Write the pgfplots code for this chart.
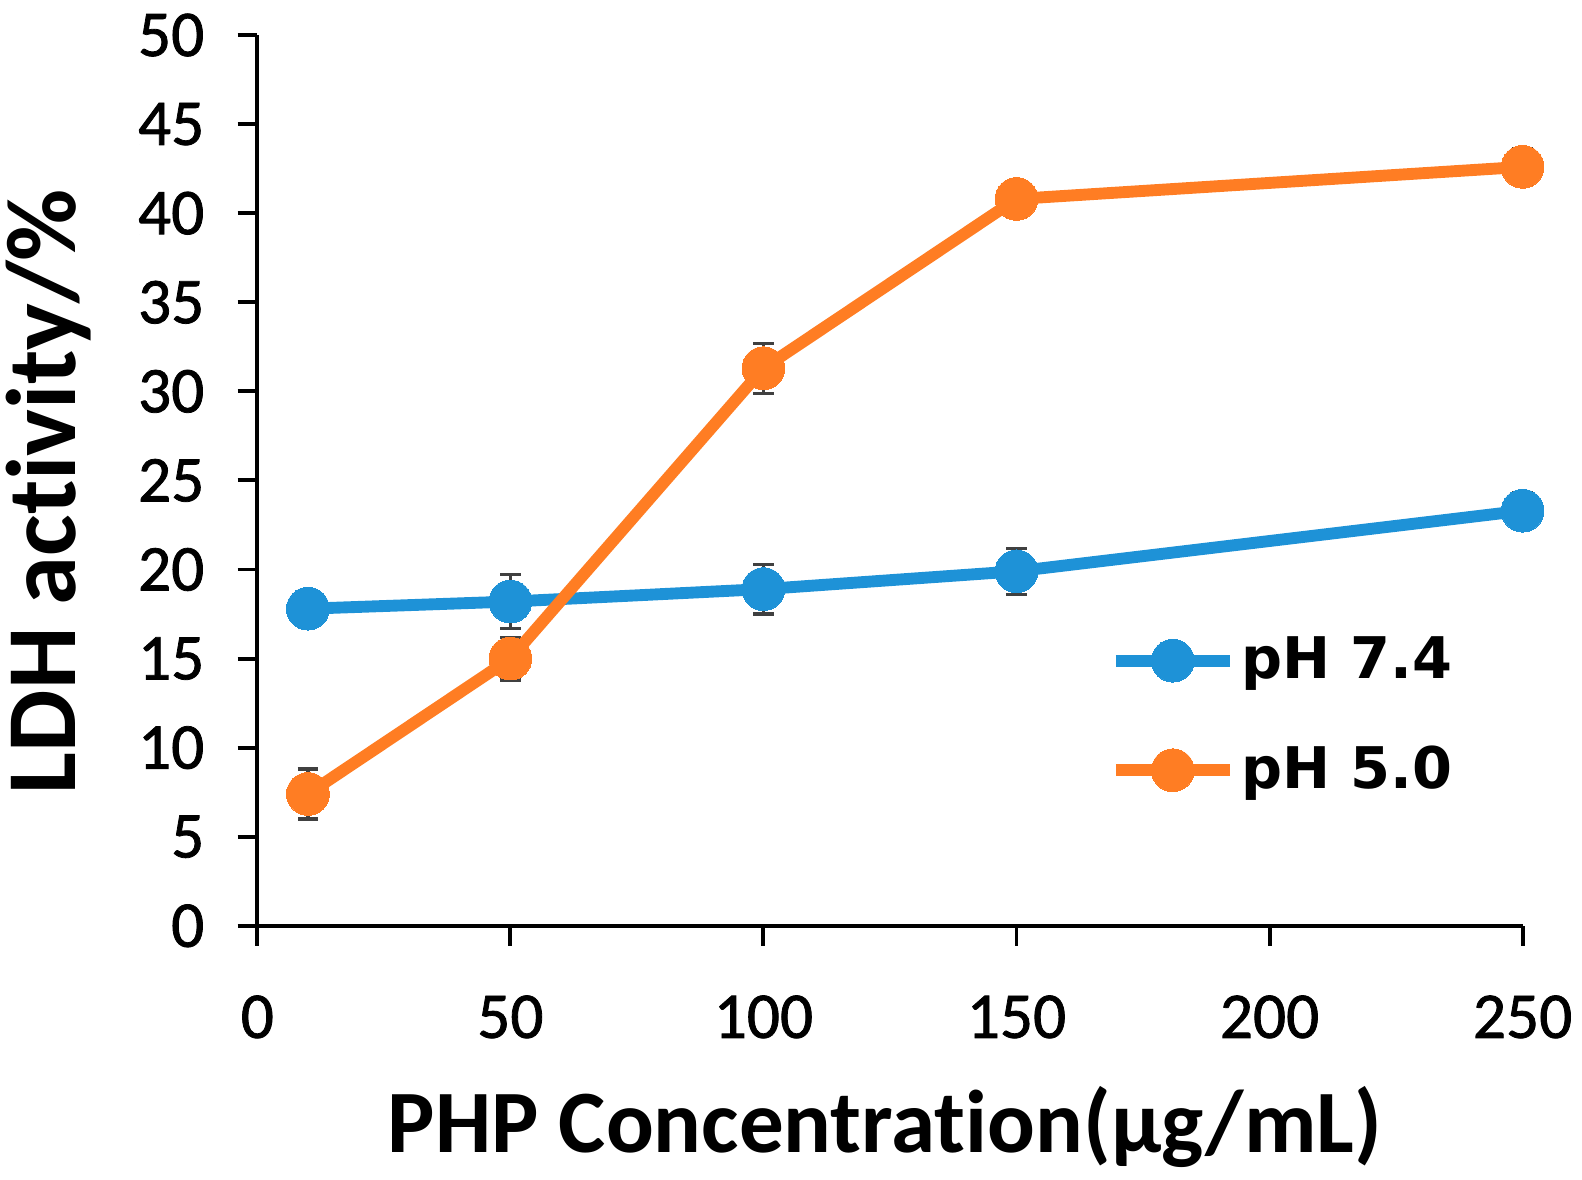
\documentclass[border=0pt]{standalone}
\usepackage{fontspec}
\setmainfont{Carlito}[Ligatures=NoCommon]
\newfontfamily\tickfont{Carlito}[FakeBold=1.2]
\newfontfamily\legfont{DejaVu Sans}
\usepackage{pgfplots}
\pgfplotsset{compat=1.18}
\definecolor{cblue}{RGB}{30,146,215}
\definecolor{corange}{RGB}{255,125,35}
\definecolor{ebar}{RGB}{64,64,64}
\pgfplotsset{
  ebars/.style={draw=none, mark=none, forget plot,
    error bars/.cd, y dir=both, y explicit,
    error bar style={line width=0.8pt, color=ebar, solid},
    error mark options={rotate=90, mark size=2.6pt, line width=0.8pt, color=ebar}},
}
\pgfplotstableread{
x y e
10 17.8 1.0
50 18.2 1.5
100 18.9 1.4
150 19.9 1.3
250 23.3 1.0
}\phseven
\pgfplotstableread{
x y e
10 7.4 1.4
50 15.0 1.2
100 31.3 1.4
150 40.8 1.0
250 42.6 1.0
}\phfive
\begin{document}
\begin{tikzpicture}
\begin{axis}[
  at={(0,0)}, anchor=origin,
  scale only axis,
  width=319.6pt, height=225pt,
  xmin=0, xmax=250, ymin=0, ymax=50,
  xtick={0,50,100,150,200,250},
  ytick={0,5,10,15,20,25,30,35,40,45,50},
  axis lines*=left,
  axis line style={line width=1pt, black, -},
  tick align=outside,
  major tick length=5pt,
  tick style={line width=1pt, black},
  /pgf/number format/assume math mode=true,
  ticklabel style={font=\tickfont\fontsize{16.5}{18}\selectfont},
  yticklabel style={anchor=east, inner sep=0pt, xshift=-8.2pt},
  xticklabel style={anchor=north, inner sep=0pt, yshift=-12.4pt},
  xlabel={PHP Concentration(µg/mL)},
  ylabel={LDH activity/\%},
  xlabel style={font=\bfseries\fontsize{22.5}{24}\selectfont, at={(axis description cs:0.496,-0.254)}, anchor=base},
  ylabel style={font=\bfseries\fontsize{25}{27}\selectfont, at={(axis description cs:-0.144,0.4875)}, anchor=base},
  legend style={draw=none, fill=none, at={(axis cs:168.3,16.6)}, anchor=north west,
    font=\legfont\bfseries\fontsize{14.5}{16}\selectfont, row sep=12.5pt, inner sep=0pt,
    nodes={inner sep=1.5pt}},
  legend cell align=left,
  legend image code/.code={%
    \draw[#1, mark=none] (0pt,0pt) -- (28.8pt,0pt);
    \draw[#1, only marks] plot coordinates {(14.4pt,0pt)};},
  clip=false,
]
\addplot[ebars] table[x=x, y=y, y error=e] {\phseven};
\addplot[color=cblue, line width=3pt, mark=*, mark size=5.4pt, mark options={solid, fill=cblue, draw=cblue, line width=0pt}]
  table[x=x, y=y] {\phseven};
\addlegendentry{pH 7.4}
\addplot[ebars] table[x=x, y=y, y error=e] {\phfive};
\addplot[color=corange, line width=3pt, mark=*, mark size=5.4pt, mark options={solid, fill=corange, draw=corange, line width=0pt}]
  table[x=x, y=y] {\phfive};
\addlegendentry{pH 5.0}
\end{axis}
\pgfresetboundingbox
\path[use as bounding box] (-65pt,-64.2pt) rectangle (334.6pt,233.85pt);
\end{tikzpicture}
\end{document}
